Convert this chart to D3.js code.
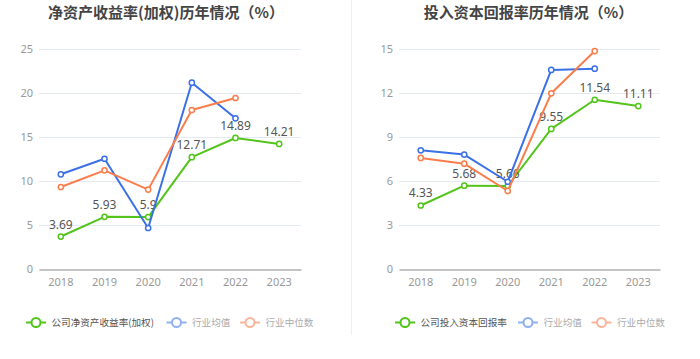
<!DOCTYPE html>
<html><head><meta charset="utf-8">
<script src="https://cdn.jsdelivr.net/npm/d3@7"></script>
<style>body{margin:0;background:#fff;}svg{display:block;font-family:"Noto Sans CJK SC","Noto Sans",sans-serif;}</style>
</head><body>
<svg id="c" width="700" height="359"></svg>
<script>
const years = ["2018","2019","2020","2021","2022","2023"];

const roeTitle = "净资产收益率(加权)历年情况（%）";
const roeCompany = [3.69, 5.93, 5.9, 12.71, 14.89, 14.21];
const roeIndustryAvg = [10.76, 12.53, 4.66, 21.17, 17.12, null];
const roeIndustryMedian = [9.32, 11.21, 9.02, 18.07, 19.43, null];
const roeTicks = [0, 5, 10, 15, 20, 25];
const roeLegend = ["公司净资产收益率(加权)", "行业均值", "行业中位数"];

const roicTitle = "投入资本回报率历年情况（%）";
const roicCompany = [4.33, 5.68, 5.66, 9.55, 11.54, 11.11];
const roicIndustryAvg = [8.09, 7.80, 5.95, 13.57, 13.66, null];
const roicIndustryMedian = [7.57, 7.18, 5.32, 11.98, 14.86, null];
const roicTicks = [0, 3, 6, 9, 12, 15];
const roicLegend = ["公司投入资本回报率", "行业均值", "行业中位数"];

const colors = ["#52c41a", "#3b70e6", "#fa7d4b"];
const legendIconColors = ["#52c41a", "#8fb0f3", "#fbb49a"];
const legendTextColors = ["#555", "#aaa", "#aaa"];

const svg = d3.select("#c");

// separator
svg.append("line").attr("x1",351.5).attr("x2",351.5).attr("y1",0).attr("y2",335)
  .attr("stroke","#f0f0f0").attr("stroke-width",1);

function drawChart(cfg){
  const g = svg.append("g");
  const x = d3.scaleBand().domain(years).range([cfg.left, cfg.right]);
  const y = d3.scaleLinear().domain([0, d3.max(cfg.ticks)]).range([269, 49]);

  g.append("text").attr("x", cfg.titleX).attr("y", 17.5).attr("text-anchor","middle")
    .attr("font-size", 15).attr("font-weight","bold").attr("fill","#444").text(cfg.title);

  // grid
  g.selectAll(".grid").data(cfg.ticks.filter(t=>t>0)).enter().append("line")
    .attr("x1", cfg.left).attr("x2", cfg.right)
    .attr("y1", d=>Math.round(y(d))+0.5).attr("y2", d=>Math.round(y(d))+0.5)
    .attr("stroke","#e4e9f4").attr("stroke-width",1);

  // y axis labels
  const yAxis = d3.axisLeft(y).tickValues(cfg.ticks).tickSize(0).tickPadding(6);
  const ya = g.append("g").attr("transform",`translate(${cfg.left},0)`).call(yAxis);
  ya.select(".domain").remove();
  ya.selectAll("text").attr("fill","#999").attr("font-size",11).attr("font-family","'Noto Sans',sans-serif");

  // x axis
  const xAxis = d3.axisBottom(x).tickSize(0).tickPadding(9);
  const xa = g.append("g").attr("transform","translate(0,269.5)").call(xAxis);
  xa.select(".domain").attr("stroke","#888");
  xa.selectAll("text").attr("fill","#999").attr("font-size",11).attr("font-family","'Noto Sans',sans-serif");

  const cx = d => x(d) + x.bandwidth()/2;
  const line = d3.line().defined(d=>d.v!=null).x(d=>cx(d.year)).y(d=>y(d.v));

  const seriesList = [cfg.company, cfg.avg, cfg.median];
  const drawSeries = (i) => {
    const pts = years.map((yr,k)=>({year:yr, v:seriesList[i][k]}));
    g.append("path").datum(pts).attr("d", line).attr("fill","none")
      .attr("stroke", colors[i]).attr("stroke-width",2).attr("stroke-linejoin","round");
    g.selectAll(null).data(pts.filter(p=>p.v!=null)).enter().append("circle")
      .attr("cx", d=>cx(d.year)).attr("cy", d=>y(d.v)).attr("r",2.6)
      .attr("fill","#fff").attr("stroke",colors[i]).attr("stroke-width",1.5);
    return pts;
  };
  const compPts = drawSeries(0);
  g.selectAll(null).data(compPts).enter().append("text")
    .attr("x", d=>cx(d.year)).attr("y", d=>y(d.v)-8).attr("text-anchor","middle")
    .attr("font-size",12).attr("fill","#555").attr("font-family","'Noto Sans',sans-serif")
    .text(d=>String(d.v));
  drawSeries(1);
  drawSeries(2);

  // legend
  cfg.legendX.forEach((lx,i)=>{
    const lg = g.append("g");
    lg.append("line").attr("x1", lx-10).attr("x2", lx+10).attr("y1",322.5).attr("y2",322.5)
      .attr("stroke", legendIconColors[i]).attr("stroke-width",2);
    lg.append("circle").attr("cx", lx).attr("cy",322.5).attr("r",4.5)
      .attr("fill","#fff").attr("stroke", legendIconColors[i]).attr("stroke-width",2);
    lg.append("text").attr("x", lx+15.5).attr("y",326).attr("font-size",9.6)
      .attr("fill", legendTextColors[i]).text(cfg.legend[i]);
  });
}

drawChart({title: roeTitle, titleX: 166, left: 39, right: 301, ticks: roeTicks,
  company: roeCompany, avg: roeIndustryAvg, median: roeIndustryMedian,
  legend: roeLegend, legendX: [36, 176.5, 250]});
drawChart({title: roicTitle, titleX: 528.5, left: 399, right: 660, ticks: roicTicks,
  company: roicCompany, avg: roicIndustryAvg, median: roicIndustryMedian,
  legend: roicLegend, legendX: [405, 528, 601.5]});
</script>
</body></html>
